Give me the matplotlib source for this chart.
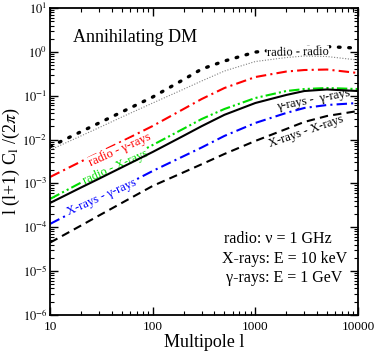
import matplotlib
matplotlib.use("Agg")
import matplotlib.pyplot as plt

plt.rcParams["font.family"] = ["Liberation Serif", "DejaVu Serif"]
plt.rcParams["mathtext.fontset"] = "stix"

# multipole values where the curves were read
ell = [10, 20, 30, 50, 100, 200, 300, 500, 1000, 2000, 3000, 5000, 10000]

# angular power spectra l(l+1)C_l/(2pi)
radio_radio = [6.89e-3, 1.51e-2, 2.39e-2, 4.26e-2, 9.35e-2, 0.234, 0.406, 0.619,
               0.99, 1.19, 1.26, 1.32, 1.22]
radio_radio_thin = [5.78e-3, 1.21e-2, 1.87e-2, 3.26e-2, 6.82e-2, 0.141, 0.217,
                    0.366, 0.603, 0.743, 0.805, 0.784, 0.652]
radio_gamma = [1.40e-3, 3.15e-3, 5.02e-3, 9.08e-3, 2.04e-2, 4.98e-2, 8.41e-2,
               0.150, 0.267, 0.356, 0.386, 0.396, 0.330]
radio_xray = [4.42e-4, 1.04e-3, 1.71e-3, 3.20e-3, 7.52e-3, 1.77e-2, 2.94e-2,
              4.98e-2, 8.87e-2, 0.128, 0.142, 0.150, 0.142]
gamma_gamma = [3.58e-4, 8.04e-4, 1.28e-3, 2.32e-3, 5.21e-3, 1.22e-2, 2.02e-2,
               3.67e-2, 6.82e-2, 0.104, 0.128, 0.139, 0.128]
xray_gamma = [1.19e-4, 2.75e-4, 4.49e-4, 8.30e-4, 1.92e-3, 4.18e-3, 6.59e-3,
              1.21e-2, 2.39e-2, 4.04e-2, 5.25e-2, 6.14e-2, 6.82e-2]
xray_xray = [4.46e-5, 1.09e-4, 1.85e-4, 3.58e-4, 8.75e-4, 1.79e-3, 2.73e-3,
             4.69e-3, 9.29e-3, 1.74e-2, 2.52e-2, 3.45e-2, 4.48e-2]

fig = plt.figure(figsize=(3.74, 3.51), dpi=100)
ax = fig.add_axes([0.134, 0.103, 0.823, 0.874])

ax.plot(ell, radio_radio, color="black", lw=2.4, linestyle=(0, (0.5, 2.6)),
        dash_capstyle="round", zorder=2)
ax.plot(ell, radio_radio_thin, color="grey", lw=0.8, linestyle=(0, (1, 1.5)),
        zorder=5)
ax.plot(ell, radio_gamma, color="red", lw=1.5, linestyle=(0, (5, 2, 1, 2)),
        zorder=2)
ax.plot(ell, radio_xray, color="#00dd00", lw=1.5,
        linestyle=(0, (5, 1.5, 1, 1.5, 1, 1.5)), zorder=2)
ax.plot(ell, gamma_gamma, color="black", lw=1.5, zorder=5)
ax.plot(ell, xray_gamma, color="blue", lw=1.5, linestyle=(0, (5, 2, 1, 2)),
        zorder=2)
ax.plot(ell, xray_xray, color="black", lw=1.5, linestyle=(0, (4, 2.5)),
        zorder=5)

ax.set_xscale("log")
ax.set_yscale("log")
ax.set_xlim(10, 10000)
ax.set_ylim(1e-6, 10)

ax.set_xticks([10, 100, 1000, 10000])
ax.set_xticklabels(["10", "100", "1000", "10000"])
ax.set_yticks([10.0 ** k for k in range(-6, 2)])
ax.set_yticklabels([r"$10^{%d}$" % k for k in range(-6, 2)])
ax.tick_params(which="both", direction="in", top=True, right=True,
               labelsize=9.5, pad=4.5)
ax.tick_params(axis="y", labelsize=9, pad=2)
ax.tick_params(which="major", length=6, width=1)
ax.tick_params(which="minor", length=3, width=0.8)
for s in ax.spines.values():
    s.set_linewidth(1.3)

ax.set_xlabel("Multipole l", fontsize=13, labelpad=1)
ax.set_ylabel(r"l (l+1) C$_{\mathrm{l}}$ /(2$\pi$)", fontsize=13)
ax.yaxis.set_label_coords(-0.09, 0.5)

ax.text(0.075, 0.889, "Annihilating DM", transform=ax.transAxes, fontsize=13)

# curve labels, written on top of the curves
box = dict(facecolor="white", edgecolor="none", pad=0.3)
lab = dict(fontsize=9, ha="center", va="center", rotation_mode="anchor",
           zorder=4)
ax.text(48, 5.8e-3, "radio - γ-rays", color="red", rotation=24, bbox=box, **lab)
ax.text(43, 2.37e-3, "radio - X-rays", color="#00dd00", rotation=24, bbox=box,
        **lab)
ax.text(32, 4.9e-4, "X-rays - γ-rays", color="blue", rotation=24, bbox=box,
        **lab)
ax.text(2600, 0.98, "radio - radio", color="black", rotation=1, bbox=box,
        **lab)
ax.text(3720, 0.080, "γ-rays -  γ-rays", color="black", rotation=11, **lab)
ax.text(3110, 0.0149, "X-rays - X-rays", color="black", rotation=19, **lab)

# energies
ax.text(0.565, 0.2345, "radio: ν = 1 GHz", transform=ax.transAxes, fontsize=11.5)
ax.text(0.56, 0.169, "X-rays: E = 10 keV", transform=ax.transAxes, fontsize=11.5)
ax.text(0.572, 0.1075, "γ-rays: E = 1 GeV", transform=ax.transAxes, fontsize=11.5)

fig.savefig("out.png", dpi=100)
